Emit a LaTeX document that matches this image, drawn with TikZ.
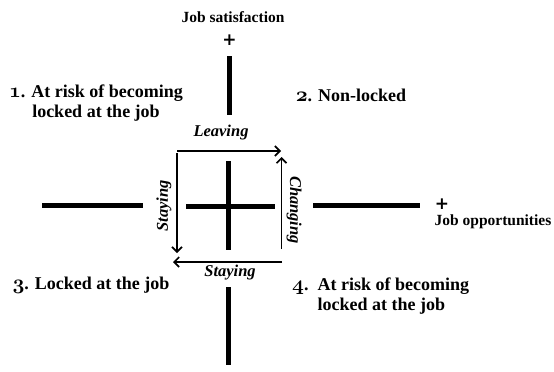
\documentclass[tikz,border=0pt]{standalone}
\usepackage{fontspec}
\setmainfont{Liberation Serif}
\newfontfamily\plusfont{DejaVu Sans}
\usetikzlibrary{arrows.meta}
\newcommand{\osn}[1]{{\fontsize{21}{20}\usefont{OML}{cmm}{b}{it}#1}}
\begin{document}
\begin{tikzpicture}[x=1pt,y=-1pt,
  bar/.style={line width=5pt},
  arr/.style={line width=1.6pt,-{Straight Barb[length=5pt,width=10pt]}},
  lab/.style={font=\fontsize{18}{20}\selectfont\bfseries,inner sep=0pt},
  axlab/.style={font=\fontsize{15.5}{18}\selectfont\bfseries,inner sep=0pt},
  pluslab/.style={font=\fontsize{17}{17}\selectfont\plusfont\bfseries,inner sep=0pt},
  itlab/.style={font=\fontsize{16.5}{18}\selectfont\bfseries\itshape,inner sep=0pt}]
\useasboundingbox (0,0) rectangle (554,372);
% axis bars
\coordinate (vt1) at (229.5,56); \coordinate (vt2) at (229.5,115);
\coordinate (vm1) at (228.5,161); \coordinate (vm2) at (228.5,250);
\coordinate (vb1) at (228.5,287); \coordinate (vb2) at (228.5,365);
\coordinate (hl1) at (42,205.5); \coordinate (hl2) at (143,205.5);
\coordinate (hm1) at (186,206); \coordinate (hm2) at (275,206);
\coordinate (hr1) at (313,205.5); \coordinate (hr2) at (420,205.5);
\draw[bar] (vt1) -- (vt2);
\draw[bar] (vm1) -- (vm2);
\draw[bar] (vb1) -- (vb2);
\draw[bar] (hl1) -- (hl2);
\draw[bar] (hm1) -- (hm2);
\draw[bar] (hr1) -- (hr2);
% arrows
\coordinate (tl) at (177,151); \coordinate (tr) at (281,151);
\coordinate (l1) at (177,153); \coordinate (l2) at (177,253);
\coordinate (b1) at (282,262); \coordinate (b2) at (173,262);
\coordinate (r1) at (281.5,249); \coordinate (r2) at (281.5,157);
\draw[arr] (tl) -- (tr);
\draw[arr] (l1) -- (l2);
\draw[arr] (b1) -- (b2);
\draw[arr] (r1) -- (r2);
% labels
\node[axlab] (js) at (233,17) {Job satisfaction};
\node[pluslab] (jsp) at (229.5,40) {+};
\node[pluslab] (jop) at (442,204) {+};
\node[axlab] (jo) at (493,222) {Job opportunities};
\node[itlab] (leav) at (221,133) {Leaving};
\node[itlab,rotate=90] (st1) at (164,206) {Staying};
\node[itlab,rotate=-90] (chg) at (294,210) {Changing};
\node[itlab] (st2) at (230,273) {Staying};
\node[lab,align=center] (q1) at (96,103) {\osn{1}. At risk of becoming\\locked at the job};
\node[lab] (q2) at (351,95) {\osn{2}. Non-locked};
\node[lab] (q3) at (91,285) {\osn{3}. Locked at the job};
\node[lab,anchor=north west] (q4) at (292,276) {\begin{tabular}{@{}l@{\ \ }l@{}}\osn{4}. & At risk of becoming\\ & locked at the job\end{tabular}};
\end{tikzpicture}
\end{document}
